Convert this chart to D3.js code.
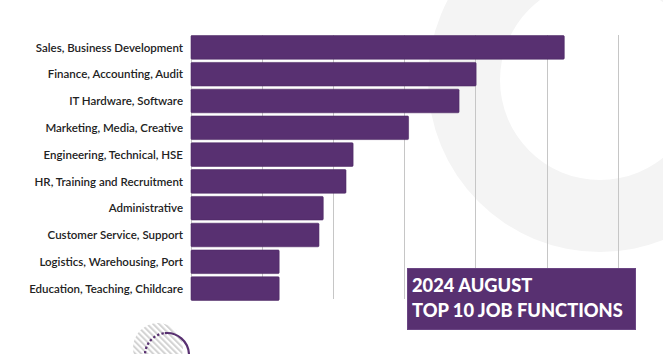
<!DOCTYPE html>
<html>
<head>
<meta charset="utf-8">
<script src="https://cdn.jsdelivr.net/npm/d3@7.9.0/dist/d3.min.js"></script>
<style>
  html, body { margin: 0; padding: 0; background: #fff; }
  svg { display: block; }
</style>
</head>
<body>
<svg id="chart" width="663" height="354"></svg>
<script>
// Job functions, top to bottom
const categories = [
  'Sales, Business Development',
  'Finance, Accounting, Audit',
  'IT Hardware, Software',
  'Marketing, Media, Creative',
  'Engineering, Technical, HSE',
  'HR, Training and Recruitment',
  'Administrative',
  'Customer Service, Support',
  'Logistics, Warehousing, Port',
  'Education, Teaching, Childcare'
];

// (relative units, one gridline = 100)
const values = [525, 401, 377, 306, 228, 218, 186, 180, 124, 124];

const gridTicks = [0, 100, 200, 300, 400, 500, 600];

const titleLines = ['2024 AUGUST', 'TOP 10 JOB FUNCTIONS'];

const purple = '#583071';

const svg = d3.select('#chart');

// Background decoration: big light grey ring top-right
const ring = d3.arc().innerRadius(100).outerRadius(172).startAngle(0).endAngle(2 * Math.PI);
svg.append('path')
  .attr('d', ring())
  .attr('transform', 'translate(600,80)')
  .attr('fill', '#f4f4f4');

// Hatched circle bottom-left
const defs = svg.append('defs');
const pat = defs.append('pattern')
  .attr('id', 'hatch')
  .attr('patternUnits', 'userSpaceOnUse')
  .attr('width', 4.2).attr('height', 4.2)
  .attr('patternTransform', 'rotate(-45)');
pat.append('line')
  .attr('x1', 1).attr('y1', 0).attr('x2', 1).attr('y2', 4.2)
  .attr('stroke', '#d2d2d2').attr('stroke-width', 2);

svg.append('circle')
  .attr('cx', 158).attr('cy', 348).attr('r', 25)
  .attr('fill', 'url(#hatch)');

// Purple circle: dotted on the left, solid on the right
svg.append('path')
  .attr('d', d3.arc()({innerRadius: 22, outerRadius: 22, startAngle: -Math.PI, endAngle: 0}))
  .attr('transform', 'translate(167,355)')
  .attr('fill', 'none')
  .attr('stroke', purple)
  .attr('stroke-width', 2.2)
  .attr('stroke-dasharray', '2 2.5');
svg.append('path')
  .attr('d', d3.arc()({innerRadius: 22, outerRadius: 22, startAngle: -0.1, endAngle: Math.PI}))
  .attr('transform', 'translate(167,355)')
  .attr('fill', 'none')
  .attr('stroke', purple)
  .attr('stroke-width', 2.2);

// Scales
const x = d3.scaleLinear().domain([0, 600]).range([191, 617.6]);
const y = d3.scaleBand().domain(categories).range([34, 302]).paddingInner(0.12).paddingOuter(0.06);

// Gridlines
svg.append('g')
  .selectAll('line')
  .data(gridTicks)
  .join('line')
  .attr('x1', d => Math.round(x(d)) + 0.5)
  .attr('x2', d => Math.round(x(d)) + 0.5)
  .attr('y1', 35)
  .attr('y2', 299)
  .attr('stroke', '#c6c6c6')
  .attr('stroke-width', 1);

// Bars
svg.append('g')
  .selectAll('rect')
  .data(values)
  .join('rect')
  .attr('x', x(0))
  .attr('y', (d, i) => y(categories[i]))
  .attr('width', d => x(d) - x(0))
  .attr('height', y.bandwidth())
  .attr('rx', 1)
  .attr('fill', purple)
  .attr('stroke', '#4d2865')
  .attr('stroke-width', 0.6);

// Category labels
svg.append('g')
  .selectAll('text')
  .data(categories)
  .join('text')
  .attr('x', 183)
  .attr('y', d => y(d) + y.bandwidth() / 2)
  .attr('dy', '0.36em')
  .attr('text-anchor', 'end')
  .attr('font-family', 'Lato, sans-serif')
  .attr('font-size', 11.5)
  .attr('font-weight', 600)
  .attr('fill', '#222')
  .text(d => d);

// Title box
svg.append('rect')
  .attr('x', 407.5).attr('y', 268.5)
  .attr('width', 228).attr('height', 61)
  .attr('fill', purple)
  .attr('stroke', '#6a4583')
  .attr('stroke-width', 1);

svg.append('g')
  .selectAll('text')
  .data(titleLines)
  .join('text')
  .attr('x', 412)
  .attr('y', (d, i) => 292 + i * 25)
  .attr('font-family', 'Lato, sans-serif')
  .attr('font-size', 18.3)
  .attr('font-weight', 900)
  .attr('fill', '#fff')
  .text(d => d);
</script>
</body>
</html>
